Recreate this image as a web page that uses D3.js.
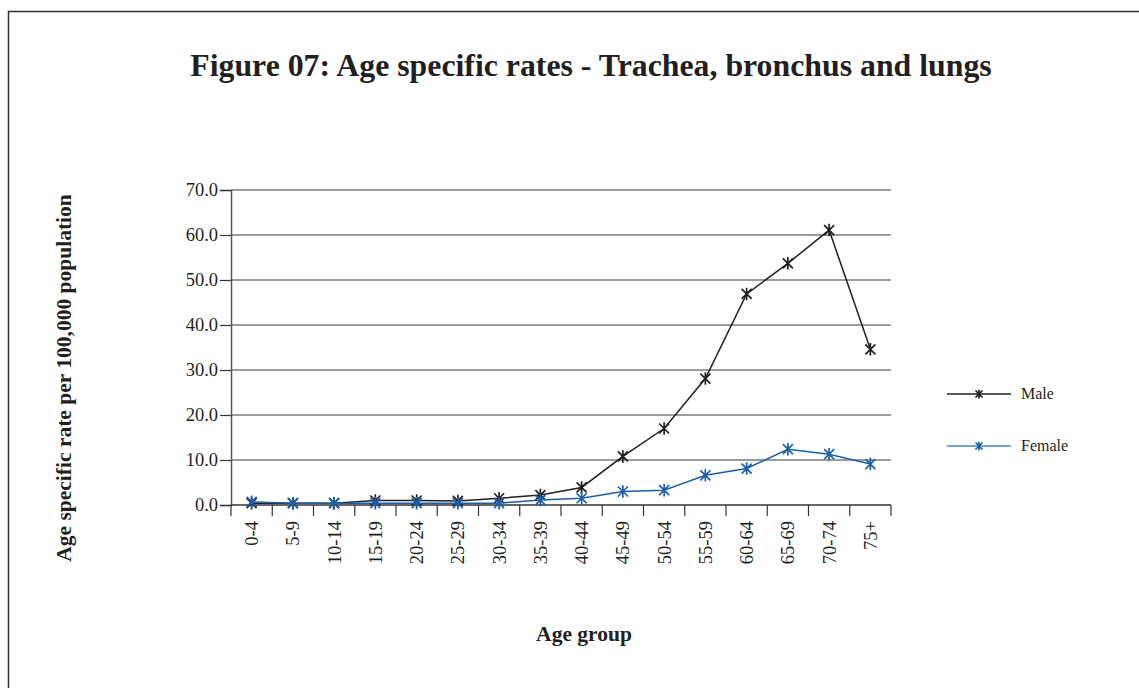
<!DOCTYPE html>
<html><head><meta charset="utf-8">
<script src="https://cdn.jsdelivr.net/npm/d3@7"></script>
<style>
body{margin:0;background:#fff;}
text{font-family:"Liberation Serif","Times New Roman",serif;fill:#231f20;}
</style></head>
<body>
<svg id="c" width="1139" height="688"></svg>
<script>
const categories = ["0-4","5-9","10-14","15-19","20-24","25-29","30-34","35-39","40-44","45-49","50-54","55-59","60-64","65-69","70-74","75+"];
const male   = [0.4,0.4,0.4,1.0,1.0,0.9,1.5,2.2,3.9,10.8,17.0,28.1,46.9,53.7,61.1,34.6];
const female = [0.7,0.4,0.4,0.4,0.4,0.4,0.4,1.1,1.5,3.0,3.3,6.6,8.1,12.4,11.3,9.1];
const yTicks = [0,10,20,30,40,50,60,70];
const seriesNames = ["Male","Female"];
const seriesColors = ["#231f20","#1c5fa8"];
const legendColors = ["#231f20","#4a86c8"];

const svg = d3.select("#c");
svg.append("path").attr("d","M8.5,688 V11.5 H1139").attr("fill","none").attr("stroke","#333").attr("stroke-width",1.5);

svg.append("text").attr("x",591).attr("y",76).attr("text-anchor","middle")
  .style("font-size","31.8px").style("font-weight","bold").text("Figure 07: Age specific rates - Trachea, bronchus and lungs");

const L=231,R=891,T=190,B=505;
const x = d3.scaleBand().domain(categories).range([L,R]);
const y = d3.scaleLinear().domain([0,70]).range([B,T]);

svg.append("g").selectAll("line").data(yTicks.filter(d=>d>0)).join("line")
  .attr("x1",L).attr("x2",R).attr("y1",d=>y(d)).attr("y2",d=>y(d))
  .attr("stroke","#3a3a3a").attr("stroke-width",1.2);

const ya = svg.append("g").attr("transform",`translate(${L},0)`)
  .call(d3.axisLeft(y).tickValues(yTicks).tickSize(11).tickPadding(2).tickFormat(d3.format(".1f")));
ya.select(".domain").attr("stroke","#555").attr("stroke-width",1.5);
ya.selectAll(".tick line").attr("stroke","#333").attr("stroke-width",1.2);
ya.selectAll("text").style("font-size","18.5px").attr("fill","#231f20");

const xa = svg.append("g").attr("transform",`translate(0,${B})`);
xa.append("line").attr("x1",L).attr("x2",R).attr("y1",0).attr("y2",0).attr("stroke","#333").attr("stroke-width",1.5);
const bounds = categories.map(c=>x(c)).concat([R]);
xa.selectAll("line.tk").data(bounds).join("line").attr("class","tk")
  .attr("x1",d=>d).attr("x2",d=>d).attr("y1",0).attr("y2",11).attr("stroke","#333").attr("stroke-width",1.2);
xa.selectAll("text").data(categories).join("text")
  .attr("transform",d=>`translate(${x(d)+x.bandwidth()/2+6.5},${16}) rotate(-90)`)
  .attr("text-anchor","end").style("font-size","18.5px").text(d=>d);

svg.append("text").attr("transform","translate(71,378) rotate(-90)").attr("text-anchor","middle")
  .style("font-size","21.5px").style("font-weight","bold").text("Age specific rate per 100,000 population");
svg.append("text").attr("x",584).attr("y",641).attr("text-anchor","middle")
  .style("font-size","21.5px").style("font-weight","bold").text("Age group");

function marker(g, cx, cy, color, s){
  g.append("path").attr("d",`M${cx-s},${cy-s}L${cx+s},${cy+s}M${cx-s},${cy+s}L${cx+s},${cy-s}M${cx},${cy-s*1.25}V${cy+s*1.25}`)
   .attr("stroke",color).attr("stroke-width",1.7).attr("fill","none");
}

const line = d3.line().x((d,i)=>x(categories[i])+x.bandwidth()/2).y(d=>y(d));
[male,female].forEach((vals,k)=>{
  const g = svg.append("g");
  g.append("path").datum(vals).attr("d",line).attr("fill","none").attr("stroke",seriesColors[k]).attr("stroke-width",1.5);
  vals.forEach((v,i)=>marker(g, x(categories[i])+x.bandwidth()/2, y(v), seriesColors[k], 5));
});

seriesNames.forEach((n,k)=>{
  const ly = 394 + k*52;
  const g = svg.append("g");
  g.append("line").attr("x1",947).attr("x2",1011).attr("y1",ly).attr("y2",ly).attr("stroke",legendColors[k]).attr("stroke-width",1.5);
  marker(g, 979, ly, seriesColors[k], 3.5);
  g.append("text").attr("x",1021).attr("y",ly+5).style("font-size","16px").text(n);
});
</script>
</body></html>
